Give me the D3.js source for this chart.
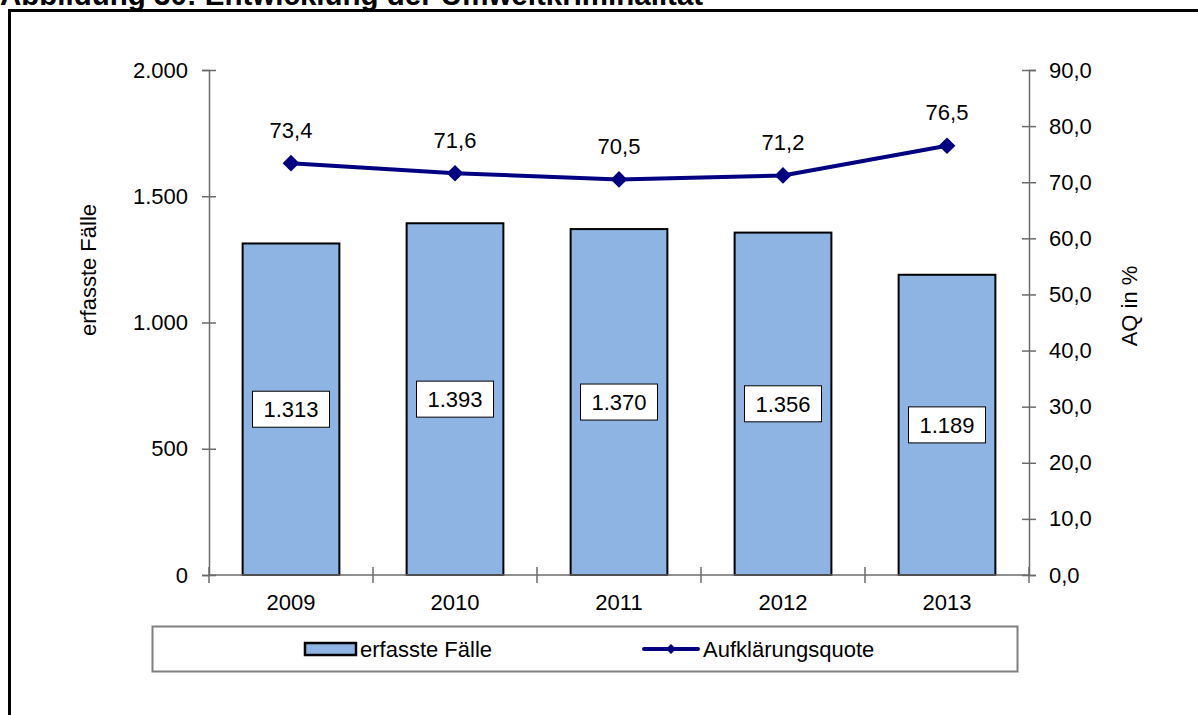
<!DOCTYPE html>
<html lang="de">
<head>
<meta charset="utf-8">
<script src="https://cdn.jsdelivr.net/npm/d3@7"></script>
<style>
  html, body { margin: 0; padding: 0; background: #fff; }
  svg { display: block; font-family: "Liberation Sans", Arial, sans-serif; }
</style>
</head>
<body>
<svg id="chart" width="1198" height="715"></svg>
<script>
// Umweltkriminalität: erfasste Fälle (Balken) und Aufklärungsquote (Linie)
const years = ["2009", "2010", "2011", "2012", "2013"];
const cases = [1313, 1393, 1370, 1356, 1189];
const clearance = [73.4, 71.6, 70.5, 71.2, 76.5];
const caseTicks = [0, 500, 1000, 1500, 2000];
const rateTicks = [0, 10, 20, 30, 40, 50, 60, 70, 80, 90];

const title = "Abbildung 30: Entwicklung der Umweltkriminalität";
const leftTitle = "erfasste Fälle";
const rightTitle = "AQ in %";
const legendBar = "erfasste Fälle";
const legendLine = "Aufklärungsquote";

const de = d3.formatLocale({ decimal: ",", thousands: ".", grouping: [3], currency: ["", " €"] });
const fmtCases = de.format(",.0f");
const fmtRate = de.format(",.1f");

const svg = d3.select("#chart");
const FS = 22;
const barFill = "#8EB4E3";
const lineColor = "#000080";
const axisColor = "#6b6b6b";

// Plot geometry
const plotLeft = 209, plotRight = 1029, plotTop = 70, plotBottom = 575;

const x = d3.scaleBand().domain(years).range([plotLeft, plotRight]).paddingInner(0.41).paddingOuter(0.205);
const yL = d3.scaleLinear().domain([0, 2000]).range([plotBottom, plotTop]);
const yR = d3.scaleLinear().domain([0, 90]).range([plotBottom, plotTop]);

// Heading (sits above the frame, partly cut off at the page edge)
svg.append("text")
  .attr("x", 0).attr("y", 5)
  .attr("font-weight", "bold").attr("font-size", 29.5)
  .text(title);

// Outer frame
svg.append("rect")
  .attr("x", 9.5).attr("y", 10.5).attr("width", 1200).attr("height", 720)
  .attr("fill", "none").attr("stroke", "#000").attr("stroke-width", 3);

// Bars
svg.append("g").selectAll("rect")
  .data(years)
  .join("rect")
  .attr("x", d => x(d))
  .attr("y", (d, i) => yL(cases[i]))
  .attr("width", x.bandwidth())
  .attr("height", (d, i) => yL(0) - yL(cases[i]))
  .attr("fill", barFill)
  .attr("stroke", "#000")
  .attr("stroke-width", 2);

// Left axis
const axL = svg.append("g").attr("transform", `translate(${plotLeft},0)`)
  .call(d3.axisLeft(yL).tickValues(caseTicks).tickFormat(fmtCases).tickSize(7).tickPadding(14));
axL.selectAll(".tick line").attr("x2", -7).attr("x1", 7);
// Right axis
const axR = svg.append("g").attr("transform", `translate(${plotRight},0)`)
  .call(d3.axisRight(yR).tickValues(rateTicks).tickFormat(fmtRate).tickSize(7).tickPadding(13));
axR.selectAll(".tick line").attr("x1", -7).attr("x2", 7);
// Category axis: ticks between categories
const boundaries = d3.range(years.length + 1).map(i => plotLeft + i * x.step());
const axB = svg.append("g").attr("transform", `translate(0,${plotBottom})`)
  .call(d3.axisBottom(x).tickSize(0).tickPadding(19));
axB.select(".domain").attr("d", `M${plotLeft},0H${plotRight}`);
axB.selectAll(".bound").data(boundaries).join("line").attr("class", "bound")
  .attr("x1", d => d).attr("x2", d => d).attr("y1", -8).attr("y2", 8);

[axL, axR, axB].forEach(g => {
  g.selectAll(".domain").attr("stroke", axisColor).attr("stroke-width", 1.5);
  g.selectAll("line").attr("stroke", axisColor).attr("stroke-width", 1.5);
  g.selectAll("text").attr("font-size", FS).attr("fill", "#000").attr("font-family", "Liberation Sans, Arial, sans-serif");
});

// Axis titles
svg.append("text")
  .attr("transform", `translate(96,270) rotate(-90)`)
  .attr("text-anchor", "middle").attr("font-size", FS)
  .text(leftTitle);
svg.append("text")
  .attr("transform", `translate(1137,306) rotate(-90)`)
  .attr("text-anchor", "middle").attr("font-size", FS)
  .text(rightTitle);

// Value boxes in the middle of each bar
const boxes = svg.append("g").selectAll("g")
  .data(years)
  .join("g")
  .attr("transform", (d, i) => `translate(${x(d) + x.bandwidth() / 2},${(yL(cases[i]) + yL(0)) / 2})`);
boxes.append("rect")
  .attr("x", -38.5).attr("y", -18).attr("width", 77).attr("height", 36)
  .attr("fill", "#fff").attr("stroke", "#000").attr("stroke-width", 1);
boxes.append("text")
  .attr("text-anchor", "middle").attr("dy", "0.35em").attr("font-size", FS)
  .text((d, i) => fmtCases(cases[i]));

// Clearance rate line
const cx = d => x(d) + x.bandwidth() / 2;
svg.append("path")
  .datum(years)
  .attr("fill", "none")
  .attr("stroke", lineColor)
  .attr("stroke-width", 4)
  .attr("stroke-linejoin", "round")
  .attr("d", d3.line().x(d => cx(d)).y((d, i) => yR(clearance[i])));

const diamond = d3.symbol().type(d3.symbolSquare).size(140);
svg.append("g").selectAll("path")
  .data(years)
  .join("path")
  .attr("d", diamond)
  .attr("transform", (d, i) => `translate(${cx(d)},${yR(clearance[i])}) rotate(45)`)
  .attr("fill", lineColor);

svg.append("g").selectAll("text")
  .data(years)
  .join("text")
  .attr("x", d => cx(d))
  .attr("y", (d, i) => yR(clearance[i]) - 33)
  .attr("dy", "0.35em")
  .attr("text-anchor", "middle")
  .attr("font-size", FS)
  .text((d, i) => fmtRate(clearance[i]));

// Legend
const lg = svg.append("g");
lg.append("rect")
  .attr("x", 152.5).attr("y", 626.5).attr("width", 865).attr("height", 45)
  .attr("fill", "#fff").attr("stroke", "#808080").attr("stroke-width", 2);
lg.append("rect")
  .attr("x", 305).attr("y", 643).attr("width", 51).attr("height", 12)
  .attr("fill", barFill).attr("stroke", "#000").attr("stroke-width", 2.5);
lg.append("text")
  .attr("x", 360).attr("y", 649).attr("dy", "0.35em").attr("font-size", FS)
  .text(legendBar);
lg.append("line")
  .attr("x1", 644).attr("x2", 698).attr("y1", 649).attr("y2", 649)
  .attr("stroke", lineColor).attr("stroke-width", 4).attr("stroke-linecap", "round");
lg.append("path")
  .attr("d", d3.symbol().type(d3.symbolSquare).size(50))
  .attr("transform", "translate(671,649) rotate(45)")
  .attr("fill", lineColor);
lg.append("text")
  .attr("x", 703).attr("y", 649).attr("dy", "0.35em").attr("font-size", FS)
  .text(legendLine);
</script>
</body>
</html>
